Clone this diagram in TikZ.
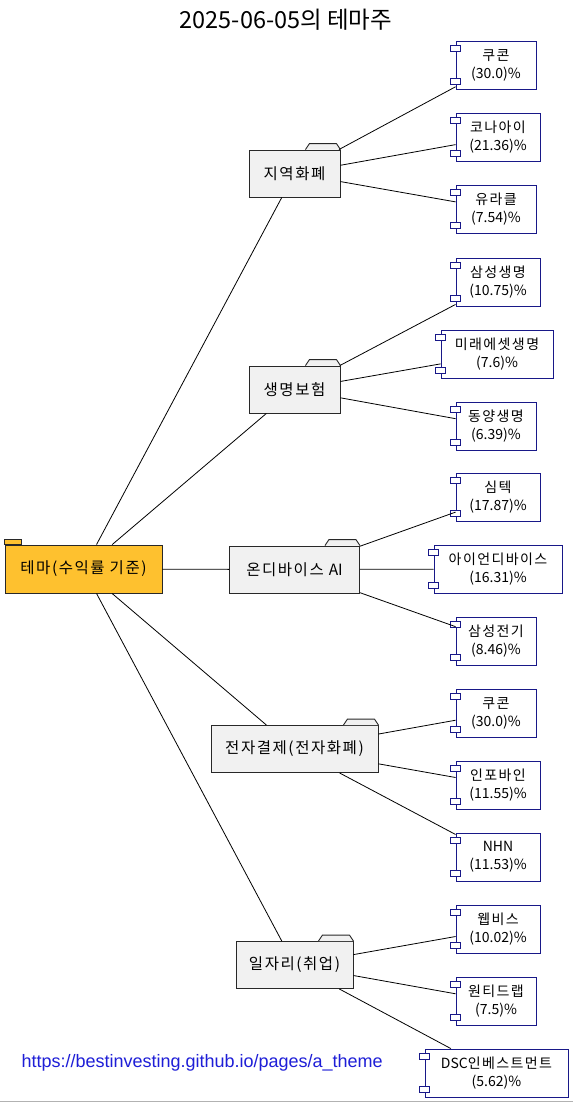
\documentclass[tikz,border=0pt]{standalone}
\usepackage{fontspec}
\setmainfont{Noto Sans CJK KR}
\newfontfamily\kr[LetterSpace=10]{Noto Sans CJK KR}
\newfontfamily\urlfont{Liberation Sans}
\definecolor{rootfill}{RGB}{254,193,47}
\definecolor{boxline}{RGB}{40,40,40}
\definecolor{folderfill}{RGB}{241,241,241}
\definecolor{compline}{RGB}{24,24,136}
\definecolor{urlblue}{RGB}{30,30,215}
\tikzset{
  rootbox/.style={draw=boxline, fill=rootfill, line width=0.9pt, rectangle, inner sep=0pt,
    minimum width=157pt, minimum height=48pt, font=\fontsize{15.5}{18}\selectfont},
  folderbox/.style={draw=boxline, fill=folderfill, line width=0.9pt, rectangle, inner sep=0pt,
    minimum height=47pt, font=\fontsize{15.5}{18}\selectfont},
  tabstyle/.style={draw=boxline, fill=folderfill, line width=0.9pt, line join=round},
  compbox/.style={draw=compline, fill=white, line width=0.9pt, rectangle, inner sep=0pt,
    minimum height=48pt, align=center, font=\fontsize{14}{18}\selectfont},
  ctabstyle/.style={draw=compline, fill=white, line width=0.9pt},
  link/.style={draw=black, line width=0.8pt},
}
\newcommand\ftab[1]{\filldraw[tabstyle] ([xshift=-35pt]#1.north east) -- ++(4pt,6pt) -- ([xshift=-4pt,yshift=6pt]#1.north east) -- (#1.north east);}
\newcommand\ctabs[1]{%
  \filldraw[ctabstyle] ([xshift=-5pt,yshift=-5pt]#1.north west) rectangle ++(10pt,-6pt);
  \filldraw[ctabstyle] ([xshift=-5pt,yshift=5pt]#1.south west) rectangle ++(10pt,6pt);}
\newcommand\cm[2]{#1\\(#2)\%}
\begin{document}
\begin{tikzpicture}[x=1pt,y=-1pt]
\useasboundingbox[fill=white] (0,0) rectangle (573,1103);
\draw[gray!60, line width=1pt] (0,1101.5) -- (573,1101.5);

\node[font=\fontsize{23.5}{26}\selectfont] (title) at (286,20) {2025-06-05의 테마주};
\node[anchor=west, font=\urlfont\fontsize{18}{20}\selectfont, text=urlblue] (url) at (18,1063) {https://bestinvesting.github.io/pages/a\_theme};

% root
\node[rootbox] (root) at (83.5,569) {\kr 테마(수익률 기준)};
\filldraw[draw=boxline, fill=rootfill, line width=0.9pt] (root.north west) rectangle ++(17pt,5pt);

% folders
\node[folderbox, minimum width=91pt] (f1) at (294.5,173.5) {\kr 지역화폐};
\node[folderbox, minimum width=91pt] (f2) at (294.5,389.5) {\kr 생명보험};
\node[folderbox, minimum width=130pt] (f3) at (294.5,569.5) {{\kr 온디바이스}\hspace{5pt}AI};
\node[folderbox, minimum width=167pt] (f4) at (294.5,749) {\kr 전자결제(전자화폐)};
\node[folderbox, minimum width=117pt] (f5) at (294.5,965) {\kr 일자리(취업)};

% components
\node[compbox, minimum width=80pt] (c1) at (496,65) {\cm{\kr 쿠콘}{30.0}};
\node[compbox, minimum width=84pt] (c2) at (498,137) {\cm{\kr 코나아이}{21.36}};
\node[compbox, minimum width=80pt] (c3) at (496,209) {\cm{\kr 유라클}{7.54}};
\node[compbox, minimum width=84pt] (c4) at (498,282) {\cm{\kr 삼성생명}{10.75}};
\node[compbox, minimum width=112pt] (c5) at (497,354) {\cm{\kr 미래에셋생명}{7.6}};
\node[compbox, minimum width=80pt] (c6) at (496,426) {\cm{\kr 동양생명}{6.39}};
\node[compbox, minimum width=84pt] (c7) at (498,497) {\cm{\kr 심텍}{17.87}};
\node[compbox, minimum width=128pt] (c8) at (498,569) {\cm{\kr 아이언디바이스}{16.31}};
\node[compbox, minimum width=80pt] (c9) at (496,641) {\cm{\kr 삼성전기}{8.46}};
\node[compbox, minimum width=80pt] (c10) at (496,713) {\cm{\kr 쿠콘}{30.0}};
\node[compbox, minimum width=84pt] (c11) at (498,785) {\cm{\kr 인포바인}{11.55}};
\node[compbox, minimum width=84pt] (c12) at (498,857) {\cm{NHN}{11.53}};
\node[compbox, minimum width=84pt] (c13) at (498,929) {\cm{\kr 웹비스}{10.02}};
\node[compbox, minimum width=80pt] (c14) at (496,1001) {\cm{\kr 원티드랩}{7.5}};
\node[compbox, minimum width=143pt] (c15) at (496.5,1073) {\cm{DSC{\kr 인베스트먼트}}{5.62}};

\foreach \f in {f1,f2,f3,f4,f5} {\ftab{\f}}
\foreach \c in {c1,c2,c3,c4,c5,c6,c7,c8,c9,c10,c11,c12,c13,c14,c15} {\ctabs{\c}}

% connectors
\foreach \f in {f1,f2,f3,f4,f5} {\draw[link] (root) -- (\f);}
\draw[link] (f1) -- (c1); \draw[link] (f1) -- (c2); \draw[link] (f1) -- (c3);
\draw[link] (f2) -- (c4); \draw[link] (f2) -- (c5); \draw[link] (f2) -- (c6);
\draw[link] (f3) -- (c7); \draw[link] (f3) -- (c8); \draw[link] (f3) -- (c9);
\draw[link] (f4) -- (c10); \draw[link] (f4) -- (c11); \draw[link] (f4) -- (c12);
\draw[link] (f5) -- (c13); \draw[link] (f5) -- (c14); \draw[link] (f5) -- (c15);
\end{tikzpicture}
\end{document}
